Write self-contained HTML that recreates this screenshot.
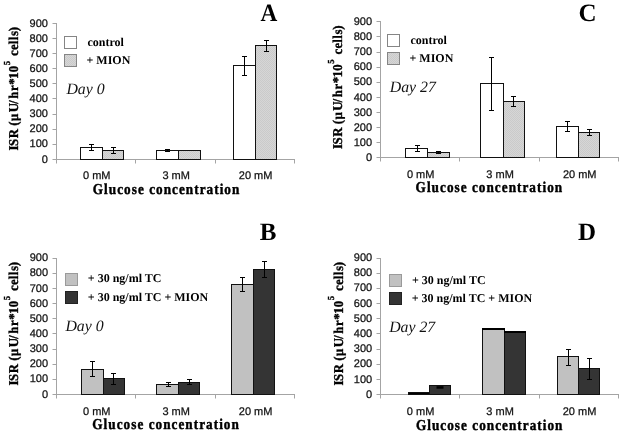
<!DOCTYPE html>
<html><head><meta charset="utf-8"><title>ISR figure</title>
<style>
html,body{margin:0;padding:0;background:#fff;}
body{width:624px;height:434px;overflow:hidden;}
svg{display:block;filter:grayscale(1);}
text{text-rendering:geometricPrecision;}
.tl{font-family:"Liberation Sans", sans-serif;font-size:11px;fill:#111;stroke:#111;stroke-width:0.25px;}
.xt{font-family:"Liberation Serif", serif;font-weight:bold;font-size:15px;letter-spacing:1.18px;fill:#000;stroke:#000;stroke-width:0.45px;}
.yt{font-family:"Liberation Serif", serif;font-weight:bold;font-size:13.5px;fill:#000;stroke:#000;stroke-width:0.35px;}
.lg{font-family:"Liberation Serif", serif;font-weight:bold;font-size:12px;fill:#000;}
.pl{font-family:"Liberation Serif", serif;font-weight:bold;font-size:25px;fill:#000;}
.dy{font-family:"Liberation Serif", serif;font-style:italic;font-size:15.8px;fill:#111;}
</style></head>
<body>
<svg width="624" height="434" viewBox="0 0 624 434">
<defs>
<pattern id="hatch" x="0" y="0" width="2" height="2" patternUnits="userSpaceOnUse">
<rect width="2" height="2" fill="#d6d6d6"/><rect width="1" height="1" fill="#cacaca"/><rect x="1" y="1" width="1" height="1" fill="#cacaca"/>
</pattern>
</defs>
<rect width="624" height="434" fill="#fff"/>
<g id="pA">
<path d="M56.5 23V163.5" stroke="#a4a4a4" stroke-width="1" fill="none"/>
<path d="M52.5 159.5H56.5" stroke="#a4a4a4" stroke-width="1"/>
<text x="47.9" y="162.5" class="tl" text-anchor="end">0</text>
<path d="M52.5 144.5H56.5" stroke="#a4a4a4" stroke-width="1"/>
<text x="47.9" y="147.39" class="tl" text-anchor="end">100</text>
<path d="M52.5 129.5H56.5" stroke="#a4a4a4" stroke-width="1"/>
<text x="47.9" y="132.28" class="tl" text-anchor="end">200</text>
<path d="M52.5 114.5H56.5" stroke="#a4a4a4" stroke-width="1"/>
<text x="47.9" y="117.17" class="tl" text-anchor="end">300</text>
<path d="M52.5 98.5H56.5" stroke="#a4a4a4" stroke-width="1"/>
<text x="47.9" y="102.06" class="tl" text-anchor="end">400</text>
<path d="M52.5 83.5H56.5" stroke="#a4a4a4" stroke-width="1"/>
<text x="47.9" y="86.94" class="tl" text-anchor="end">500</text>
<path d="M52.5 68.5H56.5" stroke="#a4a4a4" stroke-width="1"/>
<text x="47.9" y="71.83" class="tl" text-anchor="end">600</text>
<path d="M52.5 53.5H56.5" stroke="#a4a4a4" stroke-width="1"/>
<text x="47.9" y="56.72" class="tl" text-anchor="end">700</text>
<path d="M52.5 38.5H56.5" stroke="#a4a4a4" stroke-width="1"/>
<text x="47.9" y="41.61" class="tl" text-anchor="end">800</text>
<path d="M52.5 23.5H56.5" stroke="#a4a4a4" stroke-width="1"/>
<text x="47.9" y="26.5" class="tl" text-anchor="end">900</text>
<path d="M56.5 159.5H295" stroke="#a4a4a4" stroke-width="1"/>
<path d="M135.5 159.5V163.5" stroke="#a4a4a4" stroke-width="1"/>
<path d="M215.5 159.5V163.5" stroke="#a4a4a4" stroke-width="1"/>
<path d="M294.5 159.5V163.5" stroke="#a4a4a4" stroke-width="1"/>
<rect x="80.5" y="147.5" width="22" height="12" fill="#fff" stroke="#111" stroke-width="1"/>
<rect x="102.5" y="150.5" width="21" height="9" fill="url(#hatch)" stroke="#111" stroke-width="1"/>
<rect x="156.5" y="150.5" width="22" height="9" fill="#fff" stroke="#111" stroke-width="1"/>
<rect x="178.5" y="150.5" width="22" height="9" fill="url(#hatch)" stroke="#111" stroke-width="1"/>
<rect x="233.5" y="65.5" width="22" height="94" fill="#fff" stroke="#111" stroke-width="1"/>
<rect x="255.5" y="45.5" width="21" height="114" fill="url(#hatch)" stroke="#111" stroke-width="1"/>
<path d="M91.5 144.5V150.5M89 144.5H94M89 150.5H94" stroke="#000" stroke-width="1" fill="none"/>
<path d="M113.5 147.5V153.5M111 147.5H116M111 153.5H116" stroke="#000" stroke-width="1" fill="none"/>
<path d="M167.5 149.5V151.5M165 149.5H170M165 151.5H170" stroke="#000" stroke-width="1" fill="none"/>
<path d="M244.5 56.5V75.5M242 56.5H247M242 75.5H247" stroke="#000" stroke-width="1" fill="none"/>
<path d="M266.5 40.5V51.5M264 40.5H269M264 51.5H269" stroke="#000" stroke-width="1" fill="none"/>
<text x="96.75" y="179" class="tl" text-anchor="middle">0 mM</text>
<text x="176.2" y="179" class="tl" text-anchor="middle">3 mM</text>
<text x="255.6" y="179" class="tl" text-anchor="middle">20 mM</text>
<text transform="translate(92.8,193.5) scale(0.88,1)" class="xt">Glucose concentration</text>
<text transform="translate(18.3,150) rotate(-90) scale(0.95,1)" class="yt"><tspan x="-0.45" y="0">I</tspan><tspan x="4.12" y="0">S</tspan><tspan x="12.4" y="0">R</tspan><tspan x="25.41" y="0">(</tspan><tspan x="30.51" y="0">&#181;</tspan><tspan x="39.87" y="0">U</tspan><tspan x="48.45" y="0">/</tspan><tspan x="53.87" y="0">h</tspan><tspan x="62.16" y="0">r</tspan><tspan x="68.6" y="0">*</tspan><tspan x="75.13" y="0">1</tspan><tspan x="81.91" y="0">0</tspan><tspan x="98.91" y="0">c</tspan><tspan x="105.22" y="0">e</tspan><tspan x="111.21" y="0">l</tspan><tspan x="115.53" y="0">l</tspan><tspan x="120.01" y="0">s</tspan><tspan x="125.14" y="0">)</tspan><tspan x="89.21" y="-8.4" font-size="9.2">5</tspan></text>
<rect x="64.5" y="36.5" width="12" height="12" fill="#fff" stroke="#858585" stroke-width="1"/>
<rect x="64.5" y="54.5" width="12" height="12" fill="url(#hatch)" stroke="#858585" stroke-width="1"/>
<text x="87.4" y="45.8" class="lg">control</text>
<text x="86.5" y="64.1" class="lg">+ MION</text>
<text transform="translate(260.4,21.4) scale(0.93,1)" class="pl">A</text>
<text x="66.4" y="93.9" class="dy">Day 0</text>
</g>
<g id="pC">
<path d="M380.5 21V161.5" stroke="#a4a4a4" stroke-width="1" fill="none"/>
<path d="M376.5 157.5H380.5" stroke="#a4a4a4" stroke-width="1"/>
<text x="372.1" y="161" class="tl" text-anchor="end">0</text>
<path d="M376.5 142.5H380.5" stroke="#a4a4a4" stroke-width="1"/>
<text x="372.1" y="145.88" class="tl" text-anchor="end">100</text>
<path d="M376.5 127.5H380.5" stroke="#a4a4a4" stroke-width="1"/>
<text x="372.1" y="130.76" class="tl" text-anchor="end">200</text>
<path d="M376.5 112.5H380.5" stroke="#a4a4a4" stroke-width="1"/>
<text x="372.1" y="115.63" class="tl" text-anchor="end">300</text>
<path d="M376.5 97.5H380.5" stroke="#a4a4a4" stroke-width="1"/>
<text x="372.1" y="100.51" class="tl" text-anchor="end">400</text>
<path d="M376.5 82.5H380.5" stroke="#a4a4a4" stroke-width="1"/>
<text x="372.1" y="85.39" class="tl" text-anchor="end">500</text>
<path d="M376.5 67.5H380.5" stroke="#a4a4a4" stroke-width="1"/>
<text x="372.1" y="70.27" class="tl" text-anchor="end">600</text>
<path d="M376.5 52.5H380.5" stroke="#a4a4a4" stroke-width="1"/>
<text x="372.1" y="55.14" class="tl" text-anchor="end">700</text>
<path d="M376.5 36.5H380.5" stroke="#a4a4a4" stroke-width="1"/>
<text x="372.1" y="40.02" class="tl" text-anchor="end">800</text>
<path d="M376.5 21.5H380.5" stroke="#a4a4a4" stroke-width="1"/>
<text x="372.1" y="24.9" class="tl" text-anchor="end">900</text>
<path d="M380.5 157.5H619" stroke="#a4a4a4" stroke-width="1"/>
<path d="M459.5 157.5V161.5" stroke="#a4a4a4" stroke-width="1"/>
<path d="M539.5 157.5V161.5" stroke="#a4a4a4" stroke-width="1"/>
<path d="M618.5 157.5V161.5" stroke="#a4a4a4" stroke-width="1"/>
<rect x="405.5" y="148.5" width="22" height="9" fill="#fff" stroke="#111" stroke-width="1"/>
<rect x="427.5" y="152.5" width="22" height="5" fill="url(#hatch)" stroke="#111" stroke-width="1"/>
<rect x="480.5" y="83.5" width="23" height="74" fill="#fff" stroke="#111" stroke-width="1"/>
<rect x="503.5" y="101.5" width="21" height="56" fill="url(#hatch)" stroke="#111" stroke-width="1"/>
<rect x="556.5" y="126.5" width="22" height="31" fill="#fff" stroke="#111" stroke-width="1"/>
<rect x="578.5" y="132.5" width="21" height="25" fill="url(#hatch)" stroke="#111" stroke-width="1"/>
<path d="M417.5 145.5V151.5M415 145.5H420M415 151.5H420" stroke="#000" stroke-width="1" fill="none"/>
<path d="M438.5 151.5V153.5M436 151.5H441M436 153.5H441" stroke="#000" stroke-width="1" fill="none"/>
<path d="M491.5 57.5V110.5M489 57.5H494M489 110.5H494" stroke="#000" stroke-width="1" fill="none"/>
<path d="M513.5 96.5V106.5M511 96.5H516M511 106.5H516" stroke="#000" stroke-width="1" fill="none"/>
<path d="M567.5 121.5V131.5M565 121.5H570M565 131.5H570" stroke="#000" stroke-width="1" fill="none"/>
<path d="M589.5 129.5V135.5M587 129.5H592M587 135.5H592" stroke="#000" stroke-width="1" fill="none"/>
<text x="420.65" y="177.6" class="tl" text-anchor="middle">0 mM</text>
<text x="500.1" y="177.6" class="tl" text-anchor="middle">3 mM</text>
<text x="579.7" y="177.6" class="tl" text-anchor="middle">20 mM</text>
<text transform="translate(415.6,192.2) scale(0.88,1)" class="xt">Glucose concentration</text>
<text transform="translate(342.2,148.5) rotate(-90) scale(0.95,1)" class="yt"><tspan x="-0.45" y="0">I</tspan><tspan x="4.12" y="0">S</tspan><tspan x="12.4" y="0">R</tspan><tspan x="25.41" y="0">(</tspan><tspan x="30.51" y="0">&#181;</tspan><tspan x="39.87" y="0">U</tspan><tspan x="48.45" y="0">/</tspan><tspan x="53.87" y="0">h</tspan><tspan x="62.16" y="0">r</tspan><tspan x="68.6" y="0">*</tspan><tspan x="75.13" y="0">1</tspan><tspan x="81.91" y="0">0</tspan><tspan x="98.91" y="0">c</tspan><tspan x="105.22" y="0">e</tspan><tspan x="111.21" y="0">l</tspan><tspan x="115.53" y="0">l</tspan><tspan x="120.01" y="0">s</tspan><tspan x="125.14" y="0">)</tspan><tspan x="89.21" y="-8.4" font-size="9.2">5</tspan></text>
<rect x="387.5" y="34.5" width="12" height="12" fill="#fff" stroke="#858585" stroke-width="1"/>
<rect x="387.5" y="52.5" width="12" height="12" fill="url(#hatch)" stroke="#858585" stroke-width="1"/>
<text x="410.4" y="43.6" class="lg">control</text>
<text x="409.5" y="62.2" class="lg">+ MION</text>
<text x="578.6" y="21" class="pl">C</text>
<text x="389.8" y="91.7" class="dy">Day 27</text>
</g>
<g id="pB">
<path d="M56.5 258V398.5" stroke="#a4a4a4" stroke-width="1" fill="none"/>
<path d="M52.5 394.5H56.5" stroke="#a4a4a4" stroke-width="1"/>
<text x="48" y="397.5" class="tl" text-anchor="end">0</text>
<path d="M52.5 379.5H56.5" stroke="#a4a4a4" stroke-width="1"/>
<text x="48" y="382.37" class="tl" text-anchor="end">100</text>
<path d="M52.5 364.5H56.5" stroke="#a4a4a4" stroke-width="1"/>
<text x="48" y="367.23" class="tl" text-anchor="end">200</text>
<path d="M52.5 349.5H56.5" stroke="#a4a4a4" stroke-width="1"/>
<text x="48" y="352.1" class="tl" text-anchor="end">300</text>
<path d="M52.5 333.5H56.5" stroke="#a4a4a4" stroke-width="1"/>
<text x="48" y="336.97" class="tl" text-anchor="end">400</text>
<path d="M52.5 318.5H56.5" stroke="#a4a4a4" stroke-width="1"/>
<text x="48" y="321.83" class="tl" text-anchor="end">500</text>
<path d="M52.5 303.5H56.5" stroke="#a4a4a4" stroke-width="1"/>
<text x="48" y="306.7" class="tl" text-anchor="end">600</text>
<path d="M52.5 288.5H56.5" stroke="#a4a4a4" stroke-width="1"/>
<text x="48" y="291.57" class="tl" text-anchor="end">700</text>
<path d="M52.5 273.5H56.5" stroke="#a4a4a4" stroke-width="1"/>
<text x="48" y="276.43" class="tl" text-anchor="end">800</text>
<path d="M52.5 258.5H56.5" stroke="#a4a4a4" stroke-width="1"/>
<text x="48" y="261.3" class="tl" text-anchor="end">900</text>
<path d="M56.5 394.5H295" stroke="#a4a4a4" stroke-width="1"/>
<path d="M135.5 394.5V398.5" stroke="#a4a4a4" stroke-width="1"/>
<path d="M215.5 394.5V398.5" stroke="#a4a4a4" stroke-width="1"/>
<path d="M294.5 394.5V398.5" stroke="#a4a4a4" stroke-width="1"/>
<rect x="81.5" y="369.5" width="22" height="25" fill="#c1c1c1" stroke="#111" stroke-width="1"/>
<rect x="103.5" y="378.5" width="21" height="16" fill="#343434" stroke="#111" stroke-width="1"/>
<rect x="156.5" y="384.5" width="22" height="10" fill="#c1c1c1" stroke="#111" stroke-width="1"/>
<rect x="178.5" y="382.5" width="21" height="12" fill="#343434" stroke="#111" stroke-width="1"/>
<rect x="231.5" y="284.5" width="22" height="110" fill="#c1c1c1" stroke="#111" stroke-width="1"/>
<rect x="253.5" y="269.5" width="21" height="125" fill="#343434" stroke="#111" stroke-width="1"/>
<path d="M92.5 361.5V376.5M90 361.5H95M90 376.5H95" stroke="#000" stroke-width="1" fill="none"/>
<path d="M113.5 373.5V384.5M111 373.5H116M111 384.5H116" stroke="#000" stroke-width="1" fill="none"/>
<path d="M168.5 382.5V386.5M166 382.5H171M166 386.5H171" stroke="#000" stroke-width="1" fill="none"/>
<path d="M189.5 379.5V384.5M187 379.5H192M187 384.5H192" stroke="#000" stroke-width="1" fill="none"/>
<path d="M242.5 277.5V291.5M240 277.5H245M240 291.5H245" stroke="#000" stroke-width="1" fill="none"/>
<path d="M264.5 261.5V277.5M262 261.5H267M262 277.5H267" stroke="#000" stroke-width="1" fill="none"/>
<text x="96.75" y="414.7" class="tl" text-anchor="middle">0 mM</text>
<text x="176.2" y="414.7" class="tl" text-anchor="middle">3 mM</text>
<text x="255.6" y="414.7" class="tl" text-anchor="middle">20 mM</text>
<text transform="translate(92.3,429.4) scale(0.88,1)" class="xt">Glucose concentration</text>
<text transform="translate(18.4,385) rotate(-90) scale(0.95,1)" class="yt"><tspan x="-0.45" y="0">I</tspan><tspan x="4.12" y="0">S</tspan><tspan x="12.4" y="0">R</tspan><tspan x="25.41" y="0">(</tspan><tspan x="30.51" y="0">&#181;</tspan><tspan x="39.87" y="0">U</tspan><tspan x="48.45" y="0">/</tspan><tspan x="53.87" y="0">h</tspan><tspan x="62.16" y="0">r</tspan><tspan x="68.6" y="0">*</tspan><tspan x="75.13" y="0">1</tspan><tspan x="81.91" y="0">0</tspan><tspan x="98.91" y="0">c</tspan><tspan x="105.22" y="0">e</tspan><tspan x="111.21" y="0">l</tspan><tspan x="115.53" y="0">l</tspan><tspan x="120.01" y="0">s</tspan><tspan x="125.14" y="0">)</tspan><tspan x="89.21" y="-8.4" font-size="9.2">5</tspan></text>
<rect x="65.5" y="273.5" width="12" height="12" fill="#c1c1c1" stroke="#9a9a9a" stroke-width="1"/>
<rect x="65.5" y="291.5" width="12" height="12" fill="#343434" stroke="#222" stroke-width="1"/>
<text x="87.8" y="282" class="lg">+ 30 ng/ml TC</text>
<text x="87.8" y="300.8" class="lg">+ 30 ng/ml TC + MION</text>
<text x="259.8" y="239.6" class="pl">B</text>
<text x="65.4" y="330.9" class="dy">Day 0</text>
</g>
<g id="pD">
<path d="M380.5 258V398.5" stroke="#a4a4a4" stroke-width="1" fill="none"/>
<path d="M376.5 394.5H380.5" stroke="#a4a4a4" stroke-width="1"/>
<text x="372.2" y="397.8" class="tl" text-anchor="end">0</text>
<path d="M376.5 379.5H380.5" stroke="#a4a4a4" stroke-width="1"/>
<text x="372.2" y="382.61" class="tl" text-anchor="end">100</text>
<path d="M376.5 364.5H380.5" stroke="#a4a4a4" stroke-width="1"/>
<text x="372.2" y="367.42" class="tl" text-anchor="end">200</text>
<path d="M376.5 349.5H380.5" stroke="#a4a4a4" stroke-width="1"/>
<text x="372.2" y="352.23" class="tl" text-anchor="end">300</text>
<path d="M376.5 333.5H380.5" stroke="#a4a4a4" stroke-width="1"/>
<text x="372.2" y="337.04" class="tl" text-anchor="end">400</text>
<path d="M376.5 318.5H380.5" stroke="#a4a4a4" stroke-width="1"/>
<text x="372.2" y="321.86" class="tl" text-anchor="end">500</text>
<path d="M376.5 303.5H380.5" stroke="#a4a4a4" stroke-width="1"/>
<text x="372.2" y="306.67" class="tl" text-anchor="end">600</text>
<path d="M376.5 288.5H380.5" stroke="#a4a4a4" stroke-width="1"/>
<text x="372.2" y="291.48" class="tl" text-anchor="end">700</text>
<path d="M376.5 273.5H380.5" stroke="#a4a4a4" stroke-width="1"/>
<text x="372.2" y="276.29" class="tl" text-anchor="end">800</text>
<path d="M376.5 258.5H380.5" stroke="#a4a4a4" stroke-width="1"/>
<text x="372.2" y="261.1" class="tl" text-anchor="end">900</text>
<path d="M380.5 394.5H619" stroke="#a4a4a4" stroke-width="1"/>
<path d="M459.5 394.5V398.5" stroke="#a4a4a4" stroke-width="1"/>
<path d="M539.5 394.5V398.5" stroke="#a4a4a4" stroke-width="1"/>
<path d="M618.5 394.5V398.5" stroke="#a4a4a4" stroke-width="1"/>
<rect x="408.5" y="392.5" width="21" height="2" fill="#000" stroke="#111" stroke-width="1"/>
<rect x="429.5" y="385.5" width="21" height="9" fill="#343434" stroke="#111" stroke-width="1"/>
<rect x="482.5" y="328.5" width="22" height="66" fill="#c1c1c1" stroke="#111" stroke-width="1"/>
<rect x="504.5" y="332.5" width="21" height="62" fill="#343434" stroke="#111" stroke-width="1"/>
<rect x="557.5" y="356.5" width="21" height="38" fill="#c1c1c1" stroke="#111" stroke-width="1"/>
<rect x="578.5" y="368.5" width="21" height="26" fill="#343434" stroke="#111" stroke-width="1"/>
<path d="M568.5 349.5V365.5M566 349.5H571M566 365.5H571" stroke="#000" stroke-width="1" fill="none"/>
<path d="M589.5 358.5V379.5M587 358.5H592M587 379.5H592" stroke="#000" stroke-width="1" fill="none"/>
<rect x="436.5" y="386.2" width="7" height="2.5" fill="#000"/>
<rect x="482" y="328" width="23" height="2" fill="#000"/>
<rect x="504" y="331" width="22" height="2" fill="#000"/>
<text x="420.6" y="414.6" class="tl" text-anchor="middle">0 mM</text>
<text x="500.05" y="414.6" class="tl" text-anchor="middle">3 mM</text>
<text x="579.55" y="414.6" class="tl" text-anchor="middle">20 mM</text>
<text transform="translate(415.9,429.6) scale(0.88,1)" class="xt">Glucose concentration</text>
<text transform="translate(342.5,385) rotate(-90) scale(0.95,1)" class="yt"><tspan x="-0.45" y="0">I</tspan><tspan x="4.12" y="0">S</tspan><tspan x="12.4" y="0">R</tspan><tspan x="25.41" y="0">(</tspan><tspan x="30.51" y="0">&#181;</tspan><tspan x="39.87" y="0">U</tspan><tspan x="48.45" y="0">/</tspan><tspan x="53.87" y="0">h</tspan><tspan x="62.16" y="0">r</tspan><tspan x="68.6" y="0">*</tspan><tspan x="75.13" y="0">1</tspan><tspan x="81.91" y="0">0</tspan><tspan x="98.91" y="0">c</tspan><tspan x="105.22" y="0">e</tspan><tspan x="111.21" y="0">l</tspan><tspan x="115.53" y="0">l</tspan><tspan x="120.01" y="0">s</tspan><tspan x="125.14" y="0">)</tspan><tspan x="89.21" y="-8.4" font-size="9.2">5</tspan></text>
<rect x="389.5" y="274.5" width="12" height="12" fill="#c1c1c1" stroke="#9a9a9a" stroke-width="1"/>
<rect x="389.5" y="292.5" width="12" height="12" fill="#343434" stroke="#222" stroke-width="1"/>
<text x="412" y="283.6" class="lg">+ 30 ng/ml TC</text>
<text x="411.7" y="302.4" class="lg">+ 30 ng/ml TC + MION</text>
<text x="578" y="239.6" class="pl">D</text>
<text x="389.2" y="331.7" class="dy">Day 27</text>
</g>
</svg>
</body></html>
